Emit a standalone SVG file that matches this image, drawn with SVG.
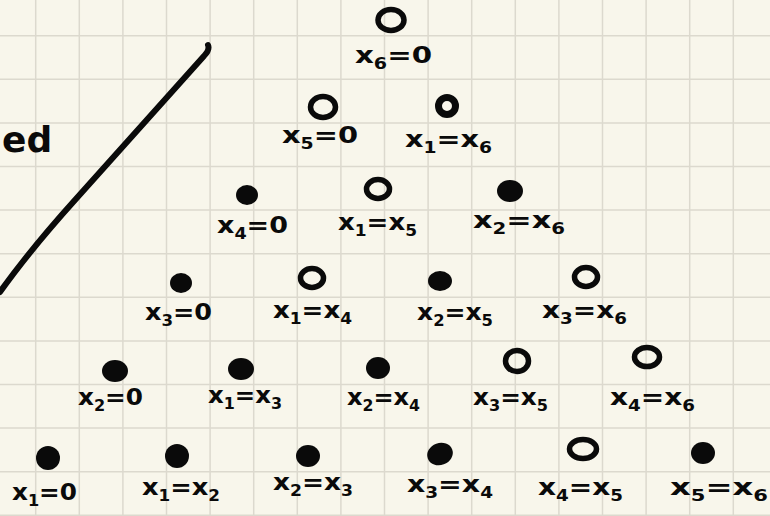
<svg xmlns="http://www.w3.org/2000/svg" width="770" height="516" viewBox="0 0 770 516">
<defs>
<style>
.bg{fill:#f8f6eb}
.grid{stroke:#dcd9ce;stroke-width:1.5;fill:none}
.open{fill:none;stroke:#0a0a0a;stroke-width:5.5}
.dot{fill:#0a0a0a}
.lbl{font-family:"DejaVu Sans","Liberation Sans",sans-serif;font-weight:bold;font-size:23px;fill:#0a0a0a}
.sub{font-size:15px}
.ink{fill:none;stroke:#0a0a0a;stroke-width:6;stroke-linecap:round;stroke-linejoin:round}
</style>
</defs>
<rect class="bg" x="0" y="0" width="770" height="516"/>
<g id="grid">
<path class="grid" d="M35.7 0V516M79.3 0V516M122.9 0V516M166.5 0V516M210.1 0V516M253.7 0V516M297.3 0V516M340.9 0V516M384.5 0V516M428.1 0V516M471.7 0V516M515.3 0V516M558.9 0V516M602.5 0V516M646.1 0V516M689.7 0V516M733.3 0V516M0 35.7H770M0 79.3H770M0 122.9H770M0 166.5H770M0 210.1H770M0 253.7H770M0 297.3H770M0 340.9H770M0 384.5H770M0 428.1H770M0 471.7H770M0 515.3H770"/>
</g>
<g id="stroke">
<path class="ink" d="M208 45 Q210 50 204 56 L75 200 Q30 250 0 292"/>
<text class="lbl" x="2" y="152" style="font-size:36px">ed</text>
</g>
<g id="connectors"></g>
<g id="n-x6-0"><ellipse class="open" cx="391" cy="20" rx="13" ry="10.5"/><text class="lbl" x="355" y="63" textLength="77" lengthAdjust="spacingAndGlyphs">x<tspan class="sub" dy="6">6</tspan><tspan dy="-6">=0</tspan></text></g>
<g id="n-x5-0"><ellipse class="open" cx="323" cy="107" rx="12.5" ry="10.5"/><text class="lbl" x="282" y="143" textLength="76" lengthAdjust="spacingAndGlyphs">x<tspan class="sub" dy="6">5</tspan><tspan dy="-6">=0</tspan></text></g>
<g id="n-x1-x6"><ellipse class="open" cx="447" cy="106" rx="8.5" ry="8.5" style="stroke-width:7"/><text class="lbl" x="405" y="147" textLength="87" lengthAdjust="spacingAndGlyphs">x<tspan class="sub" dy="6">1</tspan><tspan dy="-6">=x</tspan><tspan class="sub" dy="6">6</tspan></text></g>
<g id="n-x4-0"><ellipse class="dot" cx="247" cy="195" rx="11" ry="10"/><text class="lbl" x="217" y="233" textLength="71" lengthAdjust="spacingAndGlyphs">x<tspan class="sub" dy="6">4</tspan><tspan dy="-6">=0</tspan></text></g>
<g id="n-x1-x5"><ellipse class="open" cx="378" cy="189" rx="11.5" ry="9.5"/><text class="lbl" x="338" y="230" textLength="79" lengthAdjust="spacingAndGlyphs">x<tspan class="sub" dy="6">1</tspan><tspan dy="-6">=x</tspan><tspan class="sub" dy="6">5</tspan></text></g>
<g id="n-x2-x6"><ellipse class="dot" cx="510" cy="191" rx="13" ry="11"/><text class="lbl" x="473" y="228" textLength="92" lengthAdjust="spacingAndGlyphs">x<tspan class="sub" dy="6">2</tspan><tspan dy="-6">=x</tspan><tspan class="sub" dy="6">6</tspan></text></g>
<g id="n-x3-0"><ellipse class="dot" cx="181" cy="283" rx="11" ry="10"/><text class="lbl" x="145" y="320" textLength="67" lengthAdjust="spacingAndGlyphs">x<tspan class="sub" dy="6">3</tspan><tspan dy="-6">=0</tspan></text></g>
<g id="n-x1-x4"><ellipse class="open" cx="312" cy="278" rx="11.5" ry="9.5"/><text class="lbl" x="273" y="318" textLength="79" lengthAdjust="spacingAndGlyphs">x<tspan class="sub" dy="6">1</tspan><tspan dy="-6">=x</tspan><tspan class="sub" dy="6">4</tspan></text></g>
<g id="n-x2-x5"><ellipse class="dot" cx="440" cy="281" rx="12" ry="10"/><text class="lbl" x="417" y="320" textLength="76" lengthAdjust="spacingAndGlyphs">x<tspan class="sub" dy="6">2</tspan><tspan dy="-6">=x</tspan><tspan class="sub" dy="6">5</tspan></text></g>
<g id="n-x3-x6"><ellipse class="open" cx="586" cy="277" rx="11.5" ry="9.5"/><text class="lbl" x="542" y="318" textLength="85" lengthAdjust="spacingAndGlyphs">x<tspan class="sub" dy="6">3</tspan><tspan dy="-6">=x</tspan><tspan class="sub" dy="6">6</tspan></text></g>
<g id="n-x2-0"><ellipse class="dot" cx="115" cy="371" rx="13" ry="11"/><text class="lbl" x="78" y="405" textLength="65" lengthAdjust="spacingAndGlyphs">x<tspan class="sub" dy="6">2</tspan><tspan dy="-6">=0</tspan></text></g>
<g id="n-x1-x3"><ellipse class="dot" cx="241" cy="369" rx="13" ry="11"/><text class="lbl" x="208" y="403" textLength="74" lengthAdjust="spacingAndGlyphs">x<tspan class="sub" dy="6">1</tspan><tspan dy="-6">=x</tspan><tspan class="sub" dy="6">3</tspan></text></g>
<g id="n-x2-x4"><ellipse class="dot" cx="378" cy="368" rx="12" ry="11"/><text class="lbl" x="347" y="405" textLength="73" lengthAdjust="spacingAndGlyphs">x<tspan class="sub" dy="6">2</tspan><tspan dy="-6">=x</tspan><tspan class="sub" dy="6">4</tspan></text></g>
<g id="n-x3-x5"><ellipse class="open" cx="517" cy="361" rx="11.5" ry="10.5"/><text class="lbl" x="473" y="405" textLength="75" lengthAdjust="spacingAndGlyphs">x<tspan class="sub" dy="6">3</tspan><tspan dy="-6">=x</tspan><tspan class="sub" dy="6">5</tspan></text></g>
<g id="n-x4-x6"><ellipse class="open" cx="647" cy="357" rx="12.5" ry="9.5"/><text class="lbl" x="610" y="405" textLength="85" lengthAdjust="spacingAndGlyphs">x<tspan class="sub" dy="6">4</tspan><tspan dy="-6">=x</tspan><tspan class="sub" dy="6">6</tspan></text></g>
<g id="n-x1-0"><ellipse class="dot" cx="48" cy="458" rx="12" ry="12"/><text class="lbl" x="12" y="500" textLength="65" lengthAdjust="spacingAndGlyphs">x<tspan class="sub" dy="6">1</tspan><tspan dy="-6">=0</tspan></text></g>
<g id="n-x1-x2"><ellipse class="dot" cx="177" cy="456" rx="12" ry="12"/><text class="lbl" x="142" y="495" textLength="78" lengthAdjust="spacingAndGlyphs">x<tspan class="sub" dy="6">1</tspan><tspan dy="-6">=x</tspan><tspan class="sub" dy="6">2</tspan></text></g>
<g id="n-x2-x3"><ellipse class="dot" cx="308" cy="456" rx="12" ry="11"/><text class="lbl" x="273" y="490" textLength="80" lengthAdjust="spacingAndGlyphs">x<tspan class="sub" dy="6">2</tspan><tspan dy="-6">=x</tspan><tspan class="sub" dy="6">3</tspan></text></g>
<g id="n-x3-x4"><ellipse class="dot" cx="440" cy="454" rx="13" ry="11" transform="rotate(-20 440 454)"/><text class="lbl" x="407" y="492" textLength="86" lengthAdjust="spacingAndGlyphs">x<tspan class="sub" dy="6">3</tspan><tspan dy="-6">=x</tspan><tspan class="sub" dy="6">4</tspan></text></g>
<g id="n-x4-x5"><ellipse class="open" cx="583" cy="449" rx="13.5" ry="9.5"/><text class="lbl" x="538" y="495" textLength="85" lengthAdjust="spacingAndGlyphs">x<tspan class="sub" dy="6">4</tspan><tspan dy="-6">=x</tspan><tspan class="sub" dy="6">5</tspan></text></g>
<g id="n-x5-x6"><ellipse class="dot" cx="703" cy="453" rx="12" ry="11"/><text class="lbl" x="670" y="495" textLength="98" lengthAdjust="spacingAndGlyphs">x<tspan class="sub" dy="6">5</tspan><tspan dy="-6">=x</tspan><tspan class="sub" dy="6">6</tspan></text></g>
</svg>
